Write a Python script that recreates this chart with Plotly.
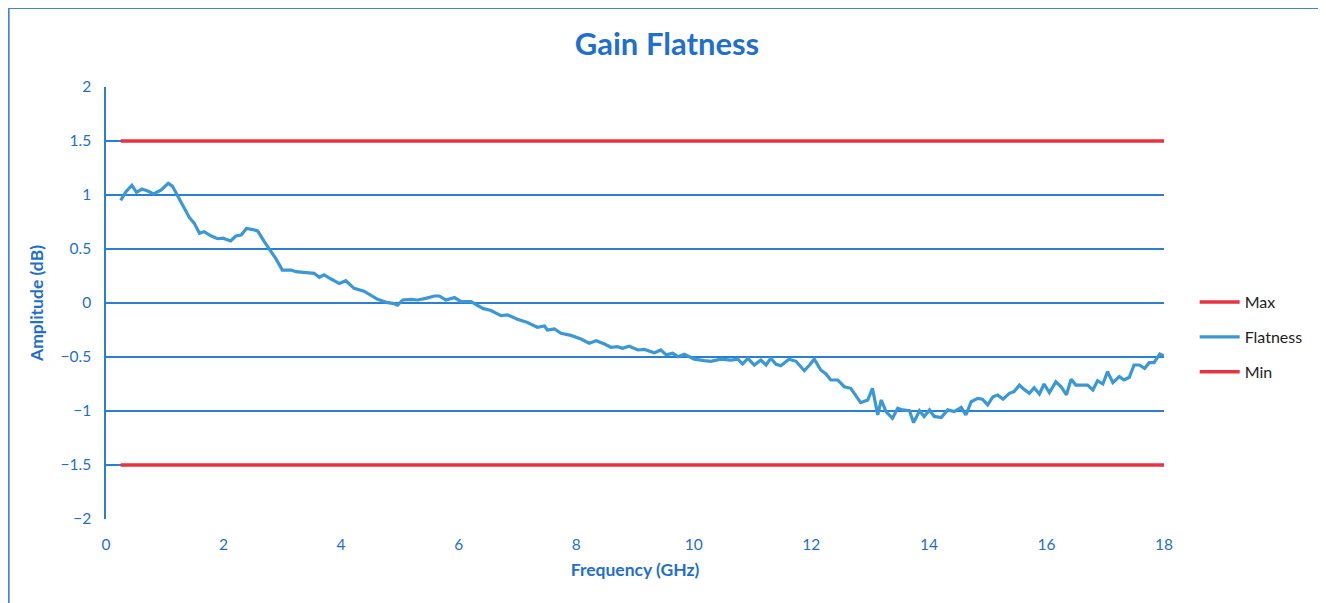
import plotly.graph_objects as go

# Frequency (GHz) and measured flatness (dB)
freq = [0.25, 0.34, 0.44, 0.52, 0.61, 0.71, 0.81, 0.94, 1.06, 1.13, 1.25, 1.42, 1.50, 1.59, 1.67,
        1.79, 1.90, 1.99, 2.12, 2.21, 2.30, 2.39, 2.50, 2.58, 2.69, 2.81, 2.89, 3.00, 3.15, 3.23,
        3.32, 3.46, 3.54, 3.63, 3.71, 3.83, 3.97, 4.08, 4.22, 4.39, 4.51, 4.62, 4.79, 4.88, 4.96,
        5.05, 5.19, 5.30, 5.44, 5.59, 5.67, 5.78, 5.93, 6.04, 6.21, 6.32, 6.41, 6.55, 6.72, 6.83,
        7.00, 7.17, 7.34, 7.46, 7.51, 7.63, 7.74, 7.91, 8.08, 8.22, 8.34, 8.48, 8.59, 8.70, 8.79,
        8.90, 9.05, 9.16, 9.33, 9.44, 9.53, 9.64, 9.73, 9.84, 10.01, 10.18, 10.29, 10.46, 10.63, 10.75,
        10.83, 10.92, 11.03, 11.14, 11.23, 11.31, 11.40, 11.48, 11.62, 11.74, 11.88, 11.97, 12.05, 12.16, 12.25,
        12.33, 12.45, 12.56, 12.67, 12.84, 12.96, 13.04, 13.13, 13.19, 13.27, 13.38, 13.47, 13.55, 13.67, 13.74,
        13.84, 13.92, 14.01, 14.09, 14.21, 14.32, 14.43, 14.55, 14.63, 14.72, 14.83, 14.91, 15.00, 15.09, 15.17,
        15.26, 15.37, 15.45, 15.54, 15.62, 15.71, 15.79, 15.88, 15.96, 16.05, 16.16, 16.25, 16.34, 16.42, 16.50,
        16.62, 16.70, 16.79, 16.87, 16.96, 17.04, 17.13, 17.24, 17.32, 17.41, 17.49, 17.58, 17.67, 17.75, 17.83,
        17.93, 18.00]
flatness = [0.95, 1.03, 1.09, 1.025, 1.055, 1.037, 1.01, 1.046, 1.108, 1.083, 0.96, 0.79, 0.74, 0.645, 0.66,
            0.62, 0.595, 0.60, 0.574, 0.62, 0.63, 0.69, 0.68, 0.667, 0.57, 0.475, 0.41, 0.305, 0.305, 0.29,
            0.284, 0.28, 0.275, 0.238, 0.26, 0.222, 0.18, 0.206, 0.136, 0.11, 0.074, 0.034, 0.003, -0.003, -0.02,
            0.028, 0.034, 0.028, 0.043, 0.065, 0.065, 0.028, 0.05, 0.012, 0.012, -0.02, -0.05, -0.07, -0.117, -0.11,
            -0.15, -0.18, -0.225, -0.213, -0.25, -0.24, -0.28, -0.30, -0.333, -0.373, -0.35, -0.38, -0.41, -0.405, -0.42,
            -0.40, -0.435, -0.43, -0.46, -0.435, -0.48, -0.466, -0.497, -0.475, -0.52, -0.534, -0.54, -0.52, -0.528, -0.52,
            -0.565, -0.512, -0.574, -0.528, -0.574, -0.512, -0.568, -0.58, -0.52, -0.54, -0.627, -0.574, -0.52, -0.62, -0.657,
            -0.713, -0.713, -0.775, -0.79, -0.923, -0.898, -0.79, -1.037, -0.898, -1.006, -1.068, -0.975, -0.99, -0.997, -1.108,
            -0.997, -1.05, -0.99, -1.05, -1.06, -0.99, -1.006, -0.966, -1.037, -0.914, -0.883, -0.89, -0.944, -0.868, -0.852,
            -0.89, -0.836, -0.82, -0.76, -0.80, -0.836, -0.784, -0.843, -0.75, -0.83, -0.73, -0.775, -0.85, -0.706, -0.76,
            -0.76, -0.76, -0.805, -0.72, -0.75, -0.636, -0.738, -0.682, -0.713, -0.688, -0.574, -0.574, -0.605, -0.553, -0.553,
            -0.472, -0.49]

limit_freq = [0.25, 18.0]
max_limit = [1.5, 1.5]
min_limit = [-1.5, -1.5]

x_ticks = [0, 2, 4, 6, 8, 10, 12, 14, 16, 18]
y_ticks = [-2, -1.5, -1, -0.5, 0, 0.5, 1, 1.5, 2]

BLUE = "#2a7fd0"
TXT = "#1f6fcf"
RED = "#e8323f"
LINE = "#3b98d6"
FONT = "Lato"

fig = go.Figure()
fig.add_trace(go.Scatter(x=limit_freq, y=max_limit, mode="lines", name="Max", legendgroup="a",
                         line=dict(color=RED, width=3.5)))
fig.add_trace(go.Scatter(x=freq, y=flatness, mode="lines", name="Flatness", legendgroup="b",
                         line=dict(color=LINE, width=3.2)))
fig.add_trace(go.Scatter(x=limit_freq, y=min_limit, mode="lines", name="Min", legendgroup="c",
                         line=dict(color=RED, width=3.5)))

fig.update_layout(
    width=1326, height=603,
    margin=dict(l=98, r=170, t=79, b=92),
    paper_bgcolor="white", plot_bgcolor="white",
    font=dict(family=FONT, color=TXT, size=15),
    title=dict(text="<b>Gain Flatness</b>", x=0.497, xanchor="center", xref="container",
               y=0.94, yanchor="middle", yref="container",
               font=dict(size=31, color=TXT, family=FONT)),
    legend=dict(x=1.029, xanchor="left", y=0.421, yanchor="middle",
                font=dict(size=16, color="#222222", family=FONT),
                bgcolor="rgba(0,0,0,0)", tracegroupgap=11, itemwidth=40),
    showlegend=True,
)
fig.update_xaxes(range=[0, 18], tickvals=x_ticks, showgrid=False, zeroline=False,
                 showline=False, ticks="", tickfont=dict(size=15.5, color=TXT), ticklabelstandoff=14,
                 title=dict(text="<b>Frequency (GHz)</b>", font=dict(size=17.5, color=TXT), standoff=12))
fig.update_yaxes(range=[-2, 2], tickvals=y_ticks, showgrid=True, gridcolor=BLUE, gridwidth=1.5,
                 zeroline=False, showline=True, linecolor=BLUE, linewidth=1.5, ticks="",
                 tickfont=dict(size=15.5, color=TXT), ticklabelstandoff=10,
                 title=dict(text="<b>Amplitude (dB)</b>", font=dict(size=17.5, color=TXT), standoff=12))

fig.add_shape(type="rect", xref="paper", yref="paper", x0=-0.092, x1=1.157, y0=-0.23, y1=1.183,
              line=dict(color="#3f86d6", width=2), fillcolor="rgba(0,0,0,0)", layer="below")

fig.write_html("out.html")
